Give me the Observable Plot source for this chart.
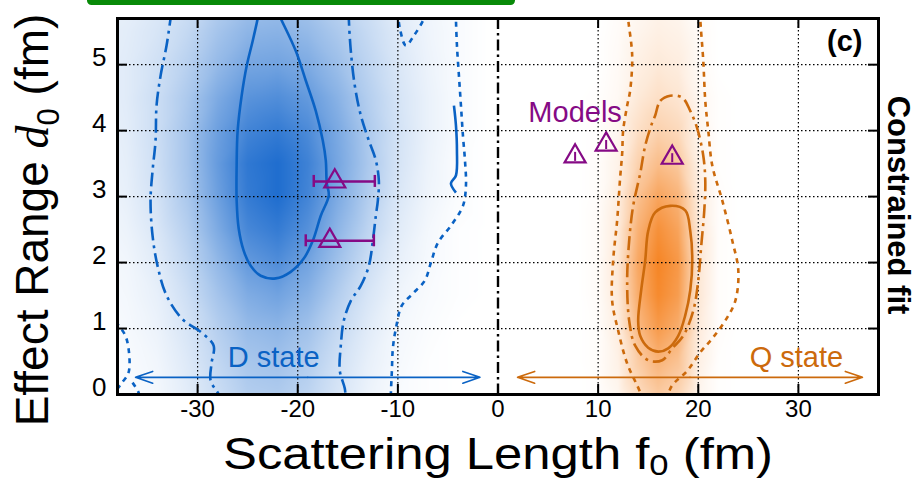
<!DOCTYPE html>
<html><head><meta charset="utf-8">
<script src="https://cdn.jsdelivr.net/npm/d3@7"></script>
<script src="https://cdn.jsdelivr.net/npm/@observablehq/plot@0.6"></script>
<style>
body{margin:0;background:#fff;}
#wrap{position:relative;width:921px;height:485px;overflow:hidden;}
#wrap svg{position:absolute;left:0;top:0;}
#greenbar{position:absolute;left:87px;top:-4px;width:428px;height:9px;background:#088a08;border-radius:4.5px;z-index:2;}
</style></head><body><div id="wrap"><div id="greenbar"></div></div>
<script>
// ---------- data ----------
const xTicks = [-30, -20, -10, 0, 10, 20, 30];
const yTicks = [0, 1, 2, 3, 4, 5];
const xGrid = [-30, -20, -10, 10, 20, 30];
const yGrid = [1, 2, 3, 4, 5];
const separator = [0];

// blue (D state) posterior density, columns f0, rows d0
const blueF = [-40, -37, -34, -31, -28, -25, -22, -19, -16, -13, -10, -7, -4, -1];
const blueD = [0, 0.5, 1, 1.5, 2, 2.5, 3, 3.5, 4, 4.5, 5, 5.5, 6];
const blueRows = [
  [0.01,0.02,0.05,0.12,0.22,0.32,0.34,0.28,0.17,0.08,0.03,0.01,0,0],
  [0.02,0.03,0.06,0.14,0.26,0.37,0.40,0.33,0.20,0.10,0.04,0.01,0,0],
  [0.02,0.04,0.08,0.17,0.31,0.44,0.48,0.40,0.25,0.13,0.05,0.02,0,0],
  [0.03,0.05,0.10,0.21,0.38,0.54,0.60,0.50,0.32,0.17,0.07,0.03,0.01,0],
  [0.04,0.06,0.13,0.26,0.46,0.66,0.74,0.60,0.40,0.22,0.10,0.04,0.01,0],
  [0.05,0.08,0.16,0.31,0.55,0.78,0.86,0.72,0.48,0.28,0.13,0.05,0.01,0],
  [0.06,0.10,0.19,0.36,0.62,0.86,0.95,0.80,0.55,0.33,0.16,0.07,0.02,0],
  [0.07,0.11,0.21,0.38,0.65,0.88,0.95,0.82,0.58,0.36,0.18,0.08,0.02,0],
  [0.08,0.12,0.22,0.38,0.62,0.80,0.86,0.76,0.56,0.35,0.19,0.09,0.03,0],
  [0.09,0.13,0.22,0.35,0.55,0.70,0.74,0.66,0.50,0.32,0.18,0.09,0.03,0],
  [0.10,0.13,0.20,0.30,0.45,0.58,0.60,0.55,0.42,0.28,0.16,0.08,0.03,0],
  [0.10,0.12,0.17,0.25,0.38,0.48,0.50,0.45,0.35,0.24,0.14,0.07,0.03,0],
  [0.08,0.10,0.14,0.20,0.30,0.38,0.40,0.36,0.28,0.20,0.12,0.06,0.03,0]
];

// orange (Q state) posterior density
const orangeF = [6, 8, 10, 12, 14, 16, 18, 20, 22, 24, 26];
const orangeD = [0, 0.5, 1, 1.5, 2, 2.5, 3, 3.5, 4, 4.5, 5, 5.5, 6];
const orangeRows = [
  [0,0,0.01,0.07,0.27,0.42,0.33,0.08,0.01,0,0],
  [0,0,0.02,0.11,0.40,0.60,0.48,0.12,0.01,0,0],
  [0,0,0.02,0.14,0.55,0.80,0.65,0.16,0.02,0,0],
  [0,0,0.03,0.17,0.66,0.93,0.78,0.19,0.02,0,0],
  [0,0,0.03,0.18,0.70,0.97,0.82,0.20,0.02,0,0],
  [0,0,0.03,0.16,0.62,0.88,0.73,0.18,0.02,0,0],
  [0,0,0.02,0.13,0.50,0.72,0.60,0.15,0.02,0,0],
  [0,0,0.02,0.10,0.36,0.52,0.43,0.11,0.01,0,0],
  [0,0,0.01,0.07,0.25,0.36,0.30,0.08,0.01,0,0],
  [0,0,0.01,0.05,0.17,0.25,0.20,0.06,0.01,0,0],
  [0,0,0,0.04,0.12,0.17,0.14,0.04,0,0,0],
  [0,0,0,0.03,0.08,0.12,0.10,0.03,0,0,0],
  [0,0,0,0.02,0.05,0.08,0.06,0.02,0,0,0]
];

// contours [f0, d0]
const blueSolid = [[-23.9,5.8],[-24.0,5.70],[-24.5,5.36],[-25.1,4.98],[-25.6,4.53],[-26.0,4.0],[-26.1,3.47],[-26.1,2.94],[-25.9,2.52],[-25.4,2.18],[-24.7,1.95],[-23.7,1.80],[-22.2,1.76],[-20.7,1.86],[-19.4,2.06],[-18.5,2.33],[-17.7,2.71],[-16.9,3.02],[-17.1,3.20],[-17.2,3.55],[-17.5,3.85],[-18.2,4.30],[-19.2,4.76],[-20.2,5.21],[-21.7,5.70],[-22.0,5.8]];
const blueIsland = [[-4.4,4.38],[-4.2,4.08],[-4.1,3.70],[-4.2,3.32],[-4.7,3.20],[-4.2,3.06]];
const blueDashLeft = [[-32.6,5.8],[-32.7,5.70],[-33.1,5.29],[-33.7,4.83],[-34.1,4.38],[-34.2,3.85],[-34.5,3.39],[-34.7,2.94],[-34.5,2.41],[-34.0,1.95],[-33.1,1.50],[-31.5,1.14],[-29.7,0.95],[-28.4,0.74],[-28.6,0.48],[-28.7,0.21],[-27.9,0],[-27.8,-0.1]];
const blueDashRight = [[-14.9,5.8],[-14.9,5.70],[-14.7,5.21],[-14.3,4.68],[-13.7,4.23],[-12.9,3.85],[-12.2,3.55],[-11.9,3.24],[-12.0,2.94],[-12.2,2.71],[-12.5,2.33],[-12.9,1.95],[-13.7,1.65],[-14.7,1.42],[-15.4,1.12],[-15.7,0.74],[-15.8,0.36],[-15.3,0.09],[-15.2,-0.1]];
const blueDotRight = [[-4.2,5.8],[-4.2,5.70],[-4.1,5.29],[-3.9,4.83],[-3.7,4.38],[-3.5,3.92],[-3.3,3.55],[-3.2,3.17],[-3.5,2.86],[-4.7,2.56],[-6.0,2.30],[-6.7,2.00],[-7.3,1.73],[-8.5,1.53],[-9.6,1.35],[-10.2,1.0],[-10.5,0.7],[-10.6,0.35],[-10.7,0],[-10.7,-0.1]];
const blueDotTop = [[-10.0,5.8],[-9.8,5.55],[-9.2,5.29],[-8.4,5.44],[-7.4,5.70],[-7.3,5.8]];
const blueDotLeft = [[-38.2,1.1],[-37.3,0.92],[-36.9,0.7],[-36.9,0.33],[-37.6,0.17],[-38.2,0.05]];
const blueDotCorner = [[-36.5,0.18],[-35.9,0.03],[-35.8,-0.1]];
const orangeSolid = [[17.2,2.86],[18.7,2.79],[19.2,2.48],[19.4,2.03],[19.2,1.58],[18.7,1.20],[18.0,0.89],[17.0,0.70],[16.0,0.65],[15.0,0.71],[14.2,0.89],[14.0,1.12],[14.3,1.58],[14.7,2.03],[15.0,2.48],[15.7,2.76]];
const orangeDash = [[15.7,4.23],[16.2,4.45],[17.2,4.53],[18.4,4.50],[19.2,4.30],[19.9,4.03],[20.5,3.62],[20.7,3.24],[20.6,2.79],[20.3,2.26],[20.0,1.73],[19.5,1.27],[18.5,0.89],[17.4,0.70],[16.4,0.52],[15.0,0.52],[13.7,0.74],[13.1,1.12],[12.9,1.73],[13.1,2.33],[13.5,2.86],[14.2,3.35],[14.7,3.77],[15.4,4.12]];
const orangeDotLeft = [[13.0,5.8],[13.0,5.70],[13.4,5.14],[13.2,4.61],[12.9,4.38],[12.5,4.0],[12.4,3.65],[12.2,3.29],[11.9,2.64],[11.5,2.03],[11.4,1.42],[12.0,0.97],[12.9,0.47],[14.2,0.03],[14.4,-0.1]];
const orangeDotRight = [[20.2,5.8],[20.2,5.70],[20.5,5.06],[20.7,4.45],[21.0,4.0],[21.4,3.47],[22.4,2.94],[23.4,2.33],[24.0,1.88],[23.7,1.42],[22.7,1.12],[21.4,0.85],[20.2,0.64],[18.9,0.36],[17.4,0.14],[17.0,0],[16.9,-0.1]];

// lattice points with errors (f0 centre, d0, f0 low, f0 high)
const latF = [-16.3, -16.8];
const latD = [3.23, 2.33];
const latLo = [-18.4, -19.2];
const latHi = [-12.3, -12.4];
// model predictions
const modelF = [7.7, 10.8, 17.4];
const modelD = [3.61, 3.79, 3.59];

// state arrows and labels
const stateNames = ["D state", "Q state"];
const stateFrom = [-36.2, 1.95];
const stateTo = [-1.8, 36.4];
const stateArrowD0 = [0.26, 0.26];
const stateLabelF = [-22.4, 29.8];
const stateLabelD0 = [0.56, 0.56];
const modelsLabel = {text: "Models", f: 7.7, d: 4.27};
const panelLabel = ["(c)"];

// ---------- styles ----------
const blue = "#0a62c4";
const orange = "#cc6a0c";
const purple = "#850a85";
const blueHeat = "#1466cc";
const orangeHeat = "#f5821f";

const W = 921, H = 485, mL = 117, mR = 43, mT = 18, mB = 91;
const fw = W - mL - mR, fh = H - mT - mB;

const blueCells = blueD.flatMap((d, i) => blueF.map((f, j) => ({f, d, v: -blueRows[i][j]})));
const orangeCells = orangeD.flatMap((d, i) => orangeF.map((f, j) => ({f, d, v: orangeRows[i][j]})));
const lat = latF.map((f, i) => ({f, d: latD[i], lo: latLo[i], hi: latHi[i]}));
const models = modelF.map((f, i) => ({f, d: modelD[i]}));
const arrows = stateNames.flatMap((n, i) => {
  const mid = (stateFrom[i] + stateTo[i]) / 2;
  return [{n, x1: mid, x2: stateFrom[i], y: stateArrowD0[i]}, {n, x1: mid, x2: stateTo[i], y: stateArrowD0[i]}];
});
const labels = stateNames.map((n, i) => ({n, f: stateLabelF[i], d: stateLabelD0[i]}));
const stateColor = n => n === "D state" ? blue : orange;

const P = p => p[0], Q = p => p[1];
const contour = (pts, color, dash, closed) => Plot.line(pts, {
  x: P, y: Q, stroke: color, strokeWidth: 2.6, strokeDasharray: dash,
  curve: closed ? "catmull-rom-closed" : "catmull-rom", clip: true, strokeLinecap: "butt"
});
const dashDot = "14,5,3,5";
const dotted = "5,5";

const chart = Plot.plot({
  width: W, height: H,
  marginLeft: mL, marginRight: mR, marginTop: mT, marginBottom: mB,
  style: {fontFamily: "'Liberation Sans', Arial, sans-serif", background: "transparent", color: "black"},
  x: {domain: [-38, 38], axis: null},
  y: {domain: [0, 5.7], axis: null},
  color: {type: "linear", domain: [-1, 1], clamp: true,
          interpolate: d3.piecewise(d3.interpolateRgb, [blueHeat, "#ffffff", orangeHeat])},
  marks: [
    Plot.raster(blueCells, {x: "f", y: "d", fill: "v", interpolate: "barycentric", x1: -38, x2: -1, y1: 0, y2: 5.7}),
    Plot.raster(orangeCells, {x: "f", y: "d", fill: "v", interpolate: "barycentric", x1: 6, x2: 26, y1: 0, y2: 5.7}),
    Plot.ruleX(xGrid, {x: d => d, stroke: "black", strokeWidth: 1.2, strokeDasharray: "1.5,2.5"}),
    Plot.ruleY(yGrid, {y: d => d, stroke: "black", strokeWidth: 1.2, strokeDasharray: "1.5,2.5"}),
    Plot.ruleX(separator, {x: d => d, stroke: "black", strokeWidth: 2.4, strokeDasharray: "11,4,2.5,4"}),
    contour(blueSolid, blue, null, false),
    contour(blueIsland, blue, null, false),
    contour(blueDashLeft, blue, dashDot, false),
    contour(blueDashRight, blue, dashDot, false),
    contour(blueDotRight, blue, dotted, false),
    contour(blueDotTop, blue, dotted, false),
    contour(blueDotLeft, blue, dotted, false),
    contour(blueDotCorner, blue, dotted, false),
    contour(orangeSolid, orange, null, true),
    contour(orangeDash, orange, dashDot, true),
    contour(orangeDotLeft, orange, dotted, false),
    contour(orangeDotRight, orange, dotted, false),
    // lattice error bars
    Plot.link(lat, {x1: "lo", x2: "hi", y1: "d", y2: "d", stroke: purple, strokeWidth: 2.5}),
    Plot.ruleX(lat, {x: "lo", y1: "d", y2: "d", insetTop: -6, insetBottom: -6, stroke: purple, strokeWidth: 2.5}),
    Plot.ruleX(lat, {x: "hi", y1: "d", y2: "d", insetTop: -6, insetBottom: -6, stroke: purple, strokeWidth: 2.5}),
    Plot.dot(lat, {x: "f", y: "d", symbol: "triangle", r: 7.8, stroke: purple, fill: "none", strokeWidth: 2.2}),
    // models
    Plot.ruleX(models, {x: "f", y1: "d", y2: "d", insetTop: -4, insetBottom: -5, stroke: purple, strokeWidth: 2}),
    Plot.dot(models, {x: "f", y: "d", symbol: "triangle", r: 7.8, stroke: purple, fill: "none", strokeWidth: 2.2}),
    Plot.text([modelsLabel], {x: "f", y: "d", text: "text", fill: purple, fontSize: 29}),
    // state arrows
    Plot.arrow(arrows, {x1: "x1", x2: "x2", y1: "y", y2: "y", stroke: d => stateColor(d.n), strokeWidth: 1.6, headLength: 17, headAngle: 38}),
    Plot.text(labels, {x: "f", y: "d", text: "n", fill: d => stateColor(d.n), fontSize: 29}),
    // frame and inward ticks
    Plot.frame({stroke: "black", strokeWidth: 3}),
    Plot.ruleX(xTicks, {x: d => d, insetTop: fh - 10, stroke: "black", strokeWidth: 2}),
    Plot.ruleX(xTicks, {x: d => d, insetBottom: fh - 10, stroke: "black", strokeWidth: 2}),
    Plot.ruleY(yTicks, {y: d => d, insetRight: fw - 10, stroke: "black", strokeWidth: 2}),
    Plot.ruleY(yTicks, {y: d => d, insetLeft: fw - 10, stroke: "black", strokeWidth: 2}),
    Plot.axisX(xTicks, {anchor: "bottom", tickSize: 0, tickPadding: 5, fontSize: 24, tickFormat: d => String(d), label: null}),
    Plot.axisY(yTicks, {anchor: "left", tickSize: 0, tickPadding: 11, fontSize: 26, dy: -7, tickFormat: d => String(d), label: null}),
    Plot.text(panelLabel, {frameAnchor: "top-right", dx: -16, dy: 12, fontSize: 29, fontWeight: "bold", lineAnchor: "top"})
  ]
});
document.getElementById("wrap").appendChild(chart);

// axis titles
const svg = d3.select(chart);
const xt = svg.append("text").attr("x", 498).attr("y", 469).attr("text-anchor", "middle")
  .attr("font-size", 44).attr("fill", "black")
  .attr("textLength", 550).attr("lengthAdjust", "spacingAndGlyphs");
xt.append("tspan").text("Scattering Length f");
xt.append("tspan").attr("font-size", 30).attr("dy", 6).text("0");
xt.append("tspan").attr("dy", -6).text(" (fm)");

const yt = svg.append("text").attr("transform", "translate(48,220) rotate(-90)").attr("text-anchor", "middle")
  .attr("font-size", 46).attr("fill", "black");
yt.append("tspan").text("Effect Range ");
yt.append("tspan").attr("font-family", "'Liberation Serif', 'DejaVu Serif', serif").attr("font-style", "italic").text("d");
yt.append("tspan").attr("font-size", 31).attr("dy", 11).text("0");
yt.append("tspan").attr("dy", -11).text(" (fm)");

svg.append("text").attr("transform", "translate(888,205) rotate(90)").attr("text-anchor", "middle")
  .attr("font-size", 31).attr("font-weight", "bold").attr("fill", "black").text("Constrained fit");
</script></body></html>
